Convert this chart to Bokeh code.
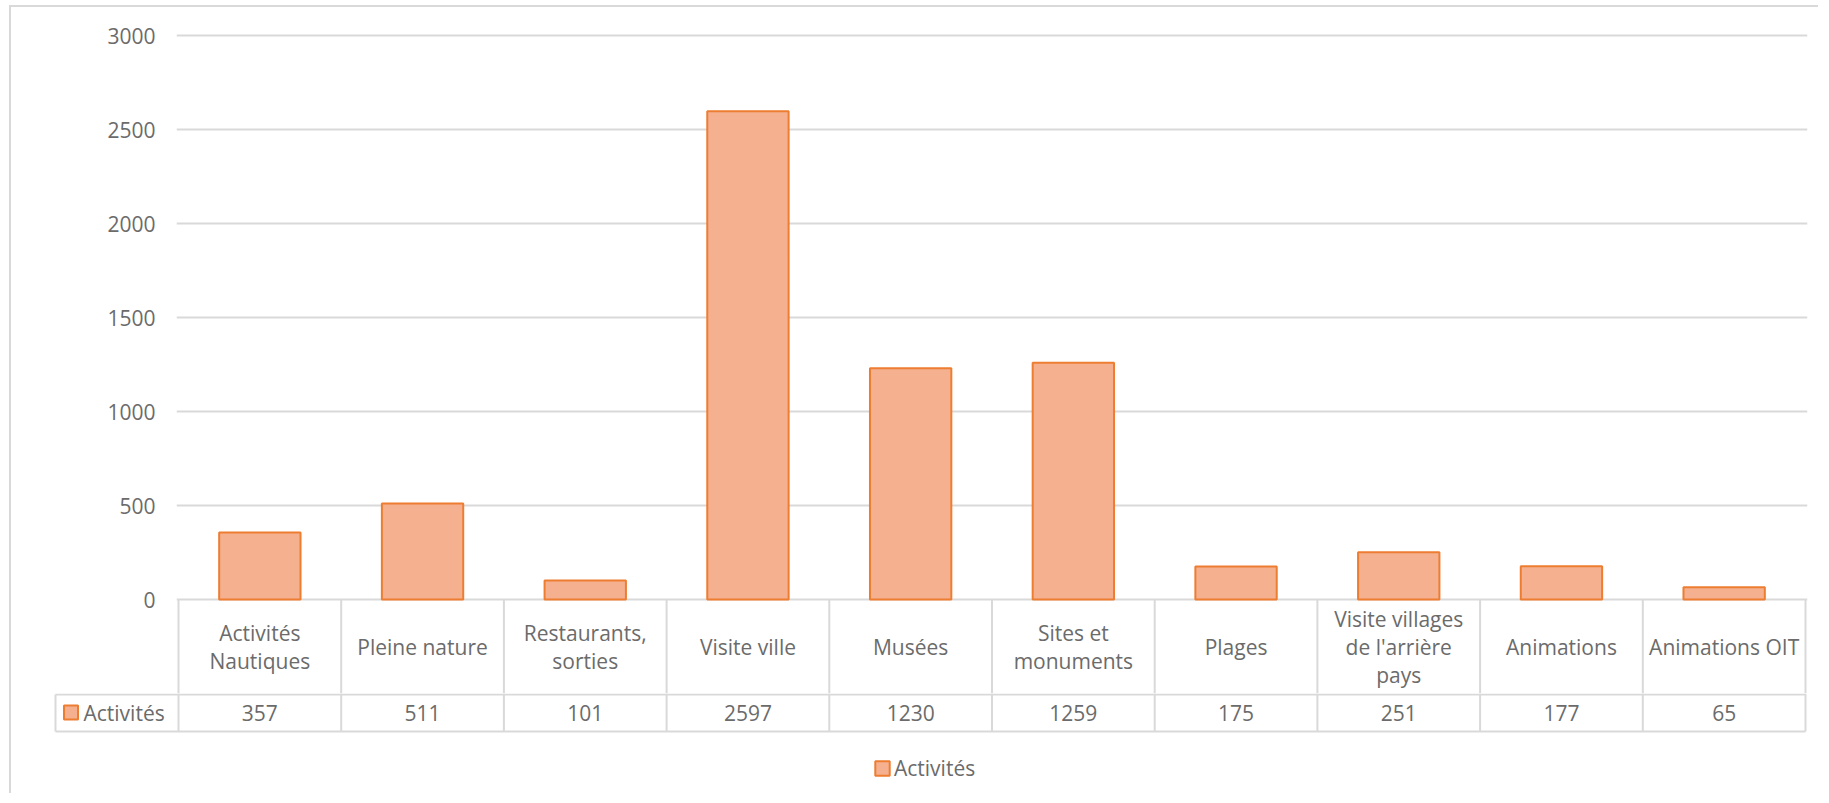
from bokeh.plotting import figure
from bokeh.models import Range1d, FixedTicker, Legend, LegendItem
from bokeh.embed import file_html
from bokeh.resources import INLINE
from bokeh.core.properties import value

# ---- data ----
categories = ["Activités\nNautiques", "Pleine nature", "Restaurants,\nsorties", "Visite ville",
              "Musées", "Sites et\nmonuments", "Plages", "Visite villages\nde l'arrière\npays",
              "Animations", "Animations OIT"]
values = [357, 511, 101, 2597, 1230, 1259, 175, 251, 177, 65]
y_ticks = [0, 500, 1000, 1500, 2000, 2500, 3000]
series_name = "Activités"

# ---- style ----
FONT = "Open Sans"
FS = "21px"
TXT = "#6b6b6b"
GRID = "#d9d9d9"
FILL = "#F5B090"
EDGE = "#ED7D31"

# ---- page geometry (page pixels) ----
OX, OY = 11, 7            # content origin inside the outer border
W = 1809
n = len(categories)
xs = list(range(n))
plot_l, plot_r = 178, 1805  # category area
zero_px, top_px = 599, 35   # y=0 and y=3000
cat_bot = 695
colw = (plot_r - plot_l) / n
k = (zero_px - top_px) / y_ticks[-1]   # px per unit

# ---- top figure: bars + category row ----
t_top = 33
t_h = cat_bot - OY
ymax = y_ticks[-1] + (top_px - t_top) / k
ymin = -(cat_bot - zero_px) / k
p = figure(width=W, height=t_h,
           x_range=Range1d(-0.5 - 2 / colw, n - 0.5 + 2 / colw), y_range=Range1d(ymin, ymax),
           output_backend="svg", toolbar_location=None,
           min_border_left=plot_l - 2 - OX, min_border_right=OX + W - plot_r - 2,
           min_border_top=t_top - OY, min_border_bottom=0)
p.styles = {"margin-left": "9px", "margin-top": "5px",
            "border-left": "2px solid #d9d9d9", "border-top": "2px solid #d9d9d9"}
p.outline_line_color = None
p.xaxis.visible = False
p.xgrid.visible = False
p.yaxis.ticker = FixedTicker(ticks=y_ticks)
p.ygrid.ticker = FixedTicker(ticks=y_ticks)
p.ygrid.grid_line_color = GRID
p.ygrid.grid_line_width = 2
p.yaxis.axis_line_color = None
p.yaxis.major_tick_line_color = None
p.yaxis.minor_tick_line_color = None
p.yaxis.major_tick_out = 0
p.yaxis.major_label_standoff = 21
p.yaxis.major_label_text_font = FONT
p.yaxis.major_label_text_font_size = FS
p.yaxis.major_label_text_color = TXT
p.vbar(x=xs, top=values, bottom=0, width=0.5, fill_color=FILL, line_color=EDGE, line_width=2)

# category row of the data table
vx = [-0.5 + i for i in range(n + 1)]
p.segment(x0=vx, x1=vx, y0=[0] * len(vx), y1=[ymin] * len(vx), line_color=GRID, line_width=2)
row_mid = 646
line_gap = 28
lx, ly, lt = [], [], []
for i, lab in enumerate(categories):
    parts = lab.split("\n")
    m = len(parts)
    for j, s in enumerate(parts):
        lx.append(i)
        ly.append(-(row_mid + (j - (m - 1) / 2) * line_gap - zero_px) / k)
        lt.append(s)
p.text(x=lx, y=ly, text=lt, text_align="center", text_baseline="middle",
       text_font=value(FONT), text_font_size=FS, text_color=TXT)

# ---- bottom figure: value row + legend ----
b_left = 53
b_h = 100
val_bot = 733
cell_l = 55
xb0 = -0.5 - (plot_l - b_left) / colw
xb1 = n - 0.5 + 2 / colw
cell_left = -0.5 - (plot_l - cell_l) / colw
r1, r2 = 1, val_bot - cat_bot

b = figure(width=W, height=b_h, x_range=Range1d(xb0, xb1), y_range=Range1d(b_h, 0),
           output_backend="svg", toolbar_location=None,
           min_border_left=b_left - OX, min_border_right=OX + W - plot_r - 2,
           min_border_top=0, min_border_bottom=0)
b.styles = {"margin-left": "9px", "border-left": "2px solid #d9d9d9"}
b.outline_line_color = None
for ax in b.axis:
    ax.visible = False
for g in b.grid:
    g.visible = False

b.segment(x0=[cell_left, cell_left], x1=[n - 0.5] * 2, y0=[r1, r2], y1=[r1, r2],
          line_color=GRID, line_width=2)
b.segment(x0=vx, x1=vx, y0=[0] * len(vx), y1=[r2] * len(vx), line_color=GRID, line_width=2)
b.segment(x0=[cell_left], x1=[cell_left], y0=[r1], y1=[r2], line_color=GRID, line_width=2)

vmid = (714 - cat_bot)
b.text(x=xs, y=[vmid] * n, text=[str(v) for v in values], text_align="center",
       text_baseline="middle", text_font=value(FONT), text_font_size=FS, text_color=TXT)

key = b.rect(x=[-0.5 - (plot_l - 70.5) / colw], y=[vmid], width=14, height=14,
             width_units="screen", height_units="screen", fill_color=FILL, line_color=EDGE,
             line_width=2)
b.text(x=[-0.5 - (plot_l - 83) / colw], y=[vmid], text=[series_name], text_align="left",
       text_baseline="middle", text_font=value(FONT), text_font_size=FS, text_color=TXT)

legend = Legend(items=[LegendItem(label=series_name, renderers=[key])], location=(820, 11),
                padding=0, margin=0, border_line_color=None, background_fill_alpha=0,
                glyph_width=18, glyph_height=18, label_standoff=3, spacing=0,
                label_text_font=FONT, label_text_font_size=FS, label_text_color=TXT)
b.add_layout(legend)

open("out.html", "w").write(file_html([p, b], INLINE))
